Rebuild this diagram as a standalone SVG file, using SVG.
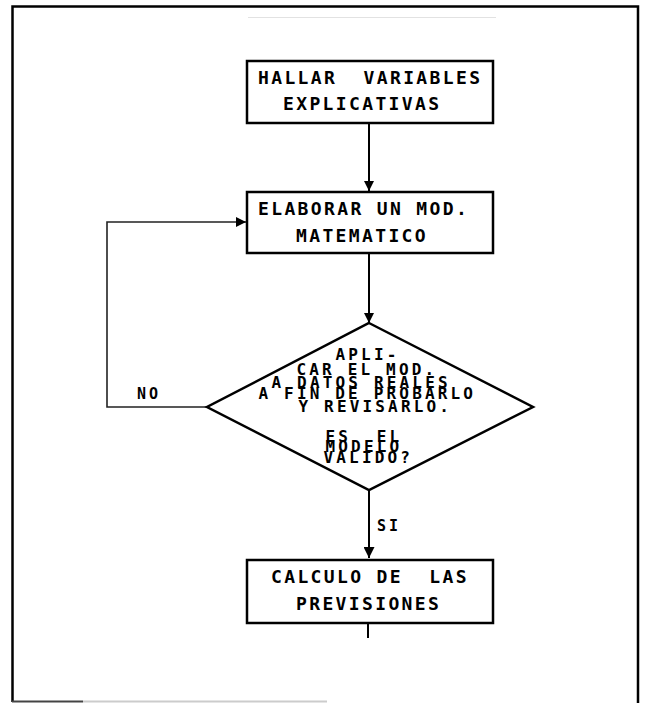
<svg xmlns="http://www.w3.org/2000/svg" width="647" height="703" viewBox="0 0 647 703">
<style>
.box{fill:#fff;stroke:#000;stroke-width:2.5}
.ln{fill:none;stroke:#000;stroke-width:2}
.thin{fill:none;stroke:#222;stroke-width:1.6}
text{white-space:pre}
.t{font-family:"DejaVu Sans Mono","Liberation Mono",monospace;font-size:18px;font-weight:bold;letter-spacing:2.36px;fill:#000}
.d{font-family:"DejaVu Sans Mono","Liberation Mono",monospace;font-size:16px;font-weight:bold;letter-spacing:3.17px;fill:#000}
</style>
<defs>
<marker id="ah" viewBox="0 0 10 10" refX="10" refY="5" markerWidth="10" markerHeight="10" markerUnits="userSpaceOnUse" orient="auto">
<path d="M0,0 L10,5 L0,10 Z" fill="#000"/>
</marker>
<marker id="ahb" viewBox="0 0 10 10" refX="10" refY="5" markerWidth="14" markerHeight="11" markerUnits="userSpaceOnUse" orient="auto">
<path d="M0,0 L10,5 L0,10 Z" fill="#000"/>
</marker>
</defs>
<rect width="647" height="703" fill="#fff"/>
<g id="frame">
<path d="M12.5,702 L12.5,6.5 L638,6.5 L638,703" fill="none" stroke="#000" stroke-width="2.5"/>
<line x1="12" y1="701.5" x2="83" y2="701.5" stroke="#444" stroke-width="2"/>
<line x1="83" y1="701.5" x2="327" y2="701.5" stroke="#ccc" stroke-width="2"/>
<line x1="248" y1="17.5" x2="496" y2="17.5" stroke="#e2e2e2" stroke-width="1.2"/>
</g>
<g id="connectors">
<line class="ln" x1="369" y1="123" x2="369" y2="191" marker-end="url(#ah)"/>
<polyline class="thin" points="208,407 107,407 107,222 246,222" marker-end="url(#ah)"/>
<line class="ln" x1="369" y1="253" x2="369" y2="323" marker-end="url(#ah)"/>
<line class="ln" x1="369" y1="490" x2="369" y2="558" marker-end="url(#ahb)"/>
<line class="ln" x1="368" y1="623" x2="368" y2="638"/>
<text class="t" x="137" y="399" style="font-size:15px;letter-spacing:3px">NO</text>
<text class="t" x="377" y="531" style="font-size:15px;letter-spacing:3px">SI</text>
</g>
<g id="n1">
<rect class="box" x="247" y="61" width="246" height="62"/>
<text class="t" x="258" y="84" xml:space="preserve">HALLAR  VARIABLES</text>
<text class="t" x="283" y="110">EXPLICATIVAS</text>
</g>
<g id="n2">
<rect class="box" x="247" y="192" width="246" height="61"/>
<text class="t" x="258" y="215">ELABORAR UN MOD.</text>
<text class="t" x="296" y="242">MATEMATICO</text>
</g>
<g id="n3">
<polygon points="369,323 533,407 369,490 207,407" fill="#fff" stroke="#000" stroke-width="2.5"/>
<text class="d" x="335.5" y="360">APLI-</text>
<text class="d" x="296.5" y="375">CAR EL MOD.</text>
<text class="d" x="271.5" y="388">A DATOS REALES</text>
<text class="d" x="258.5" y="399">A FIN DE PROBARLO</text>
<text class="d" x="298.5" y="412">Y REVISARLO.</text>
<text class="d" x="325.5" y="442" xml:space="preserve">ES  EL</text>
<text class="d" x="325.5" y="452">MODELO</text>
<text class="d" x="323.5" y="463">VALIDO?</text>
</g>
<g id="n4">
<rect class="box" x="247" y="560" width="246" height="63"/>
<text class="t" x="271" y="583" xml:space="preserve">CALCULO DE  LAS</text>
<text class="t" x="296" y="610">PREVISIONES</text>
</g>
</svg>
